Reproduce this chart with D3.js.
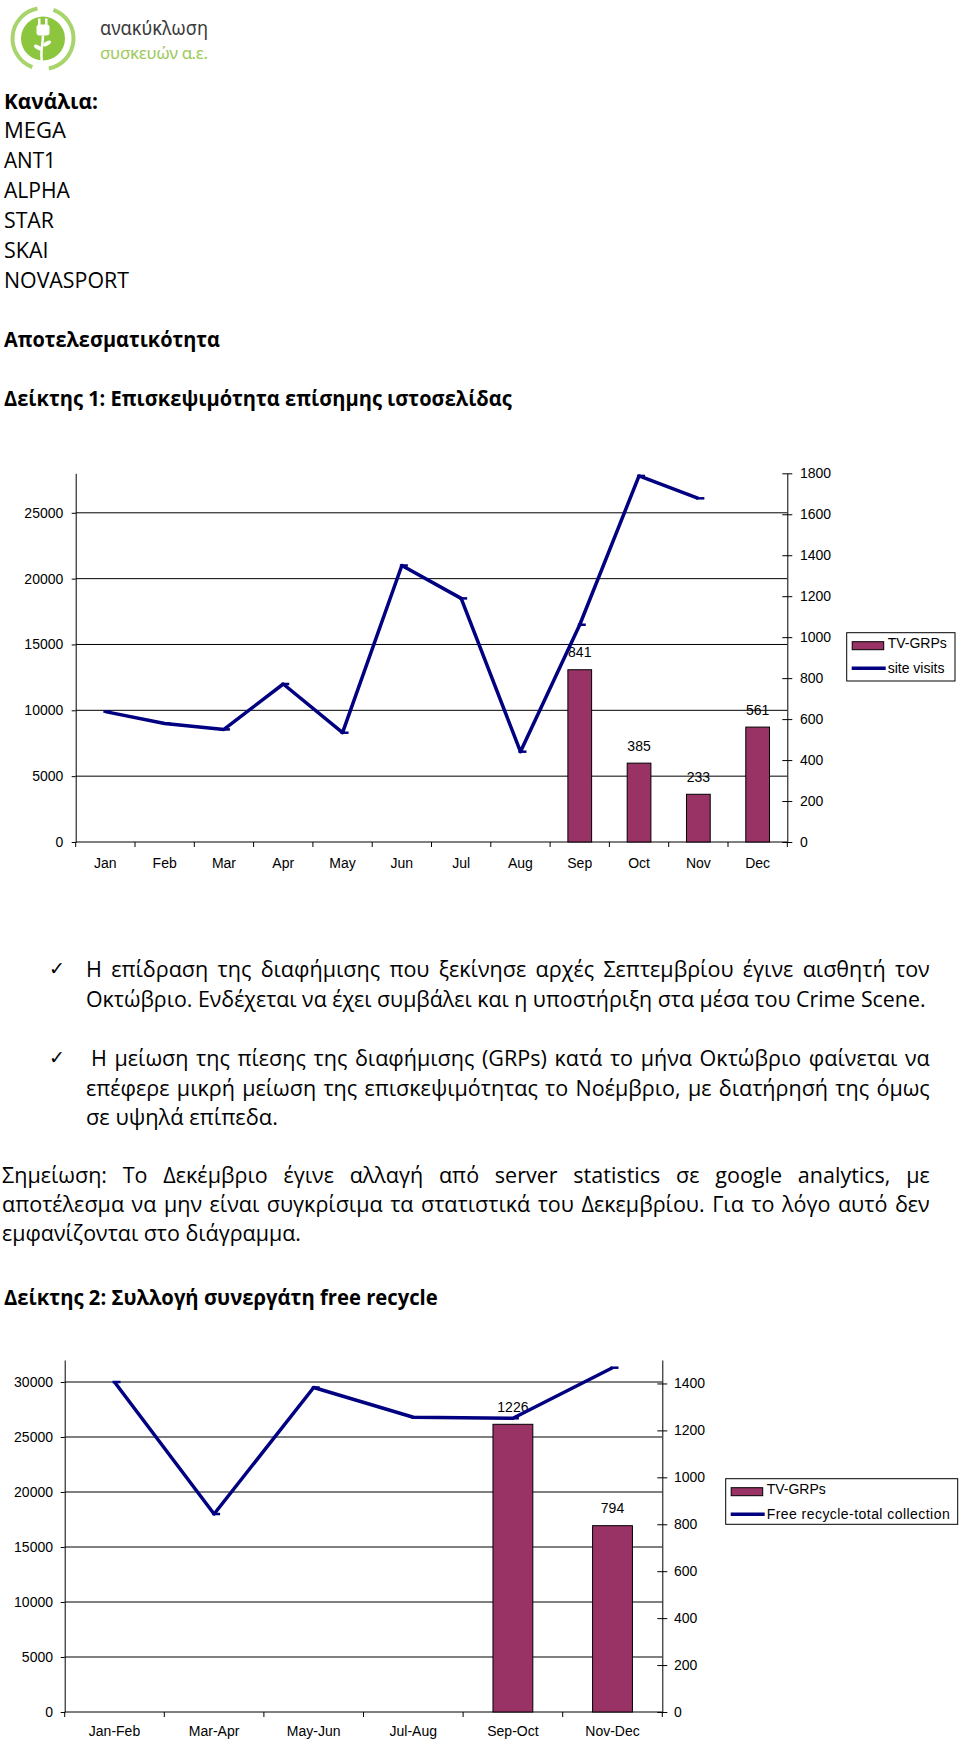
<!DOCTYPE html>
<html>
<head>
<meta charset="utf-8">
<script src="https://cdn.jsdelivr.net/npm/d3@7"></script>
<style>
  html, body { margin: 0; padding: 0; background: #fff; }
  svg { display: block; }
</style>
</head>
<body>
<div id="page"></div>
<script>
// ---- data ----
const channels = ["MEGA", "ANT1", "ALPHA", "STAR", "SKAI", "NOVASPORT"];

const months = ["Jan", "Feb", "Mar", "Apr", "May", "Jun", "Jul", "Aug", "Sep", "Oct", "Nov", "Dec"];
const siteVisits = [9900, 9000, 8550, 12000, 8300, 21000, 18500, 6860, 16500, 27800, 26100, null];
const tvGrps1 = [0, 0, 0, 0, 0, 0, 0, 0, 841, 385, 233, 561];
const leftTicks1 = [0, 5000, 10000, 15000, 20000, 25000];
const rightTicks1 = [0, 200, 400, 600, 800, 1000, 1200, 1400, 1600, 1800];

const periods = ["Jan-Feb", "Mar-Apr", "May-Jun", "Jul-Aug", "Sep-Oct", "Nov-Dec"];
const freeRecycle = [30000, 18000, 29500, 26800, 26700, 31300];
const tvGrps2 = [0, 0, 0, 0, 1226, 794];
const leftTicks2 = [0, 5000, 10000, 15000, 20000, 25000, 30000];
const rightTicks2 = [0, 200, 400, 600, 800, 1000, 1200, 1400];

const bullet1 = [
  "Η επίδραση της διαφήμισης που ξεκίνησε αρχές Σεπτεμβρίου έγινε αισθητή τον",
  "Οκτώβριο. Ενδέχεται να έχει συμβάλει και η υποστήριξη στα μέσα του Crime Scene."
];
const bullet2 = [
  "Η μείωση της πίεσης της διαφήμισης (GRPs) κατά το μήνα Οκτώβριο φαίνεται να",
  "επέφερε μικρή μείωση της επισκεψιμότητας το Νοέμβριο, με διατήρησή της όμως",
  "σε υψηλά επίπεδα."
];
const note = [
  "Σημείωση: Το Δεκέμβριο έγινε αλλαγή από server statistics σε google analytics, με",
  "αποτέλεσμα να μην είναι συγκρίσιμα τα στατιστικά του Δεκεμβρίου. Για το λόγο αυτό δεν",
  "εμφανίζονται στο διάγραμμα."
];

// ---- page ----
const W = 960, H = 1740;
const docFont = "'Open Sans', 'Noto Sans', sans-serif";
const chartFont = "'Liberation Sans', Arial, sans-serif";
const barColor = "#993366";
const lineColor = "#000080";

const svg = d3.select("#page").append("svg")
    .attr("width", W)
    .attr("height", H);

// logo
function drawLogo() {
    const g = svg.append("g");
    const cx = 43, cy = 38.5;
    const ring = d3.arc().innerRadius(28.5).outerRadius(32.5);
    g.append("path")
        .attr("transform", `translate(${cx},${cy})`)
        .attr("d", ring({ startAngle: 0.35, endAngle: 2.95 }))
        .attr("fill", "#a8d46c");
    g.append("path")
        .attr("transform", `translate(${cx},${cy})`)
        .attr("d", ring({ startAngle: 3.5, endAngle: 6.1 }))
        .attr("fill", "#a8d46c");
    g.append("circle").attr("cx", cx).attr("cy", cy).attr("r", 22).attr("fill", "#8cc63f");
    // plug / plant
    const w = g.append("g").attr("fill", "#fff").attr("transform", `translate(${cx},${cy})`);
    w.append("rect").attr("x", -5).attr("y", -20).attr("width", 2.5).attr("height", 7);
    w.append("rect").attr("x", 2).attr("y", -20).attr("width", 2.5).attr("height", 7);
    w.append("rect").attr("x", -6.5).attr("y", -14).attr("width", 13).attr("height", 11).attr("rx", 3);
    w.append("path")
        .attr("d", "M0,-3 C0,6 -3,12 -1,24")
        .attr("fill", "none").attr("stroke", "#fff").attr("stroke-width", 2.5);
    w.append("ellipse").attr("cx", -5).attr("cy", 9).attr("rx", 4.5).attr("ry", 2)
        .attr("transform", "rotate(30,-5,9)");
    w.append("ellipse").attr("cx", 4).attr("cy", 5).attr("rx", 4.5).attr("ry", 2)
        .attr("transform", "rotate(-30,4,5)");

    g.append("text")
        .attr("x", 100).attr("y", 35)
        .attr("font-family", "'Noto Sans', sans-serif")
        .attr("font-size", 19)
        .attr("fill", "#3a3a3a")
        .attr("textLength", 108)
        .attr("lengthAdjust", "spacingAndGlyphs")
        .text("ανακύκλωση");
    g.append("text")
        .attr("x", 100).attr("y", 59)
        .attr("font-family", "'Noto Sans', sans-serif")
        .attr("font-size", 17)
        .attr("fill", "#9cc95a")
        .attr("textLength", 108)
        .attr("lengthAdjust", "spacing")
        .text("συσκευών α.ε.");
}

// one line of document text, squeezed to the width it has in the scan
let squeeze = 1;
function docLine(str, x, y, x1, opts = {}) {
    const t = svg.append("text")
        .attr("font-family", docFont)
        .attr("font-size", 22)
        .attr("font-weight", opts.bold ? 700 : 400)
        .attr("fill", "#000")
        .text(str);
    const w = t.node().getComputedTextLength();
    let k;
    if (opts.justify) {
        k = squeeze;
        const n = (str.match(/ /g) || []).length;
        t.attr("word-spacing", ((x1 - x) / k - w) / n);
    } else {
        k = (x1 - x) / w;
    }
    t.attr("transform", `translate(${x},${y}) scale(${k},1)`);
    return k;
}

function drawText() {
    docLine("Κανάλια:", 4, 108.5, 98, { bold: true });
    const channelRight = [66, 56, 70, 54, 48.5, 129];
    channels.forEach((c, i) => docLine(c, 4, 137.5 + i * 30, channelRight[i]));
    docLine("Αποτελεσματικότητα", 4, 346.5, 220, { bold: true });
    docLine("Δείκτης 1: Επισκεψιμότητα επίσημης ιστοσελίδας", 4, 406, 512, { bold: true });

    // natural lines first, the justified ones reuse their squeeze
    const ks = [];
    ks.push(docLine(note[2], 2, 1241, 301));
    ks.push(docLine(bullet2[2], 86, 1125, 278));
    ks.push(docLine(bullet1[1], 86, 1006.5, 926));
    squeeze = d3.mean(ks);

    docLine(bullet1[0], 86, 977, 930, { justify: true });
    docLine(bullet2[0], 91, 1066, 930, { justify: true });
    docLine(bullet2[1], 86, 1095.5, 930, { justify: true });
    docLine(note[0], 2, 1183, 930, { justify: true });
    docLine(note[1], 2, 1212, 930, { justify: true });

    [975, 1064].forEach(y => {
        svg.append("text")
            .attr("x", 49).attr("y", y)
            .attr("font-family", "'DejaVu Sans', sans-serif")
            .attr("font-size", 19)
            .text("\u2713");
    });

    docLine("Δείκτης 2: Συλλογή συνεργάτη free recycle", 4, 1305, 438, { bold: true });
}

// combo chart: bars on the right axis, line on the left axis
function drawChart(cfg) {
    const g = svg.append("g")
        .attr("font-family", chartFont)
        .attr("font-size", 14);

    const x = d3.scaleBand().domain(cfg.cats).range([cfg.left, cfg.right]);
    const yL = d3.scaleLinear().domain([0, cfg.leftMax]).range([cfg.bottom, cfg.top]);
    const yR = d3.scaleLinear().domain([0, cfg.rightMax]).range([cfg.bottom, cfg.top]);
    const bw = x.bandwidth();

    // gridlines
    g.append("g").selectAll("line")
        .data(cfg.leftTicks.filter(v => v > 0))
        .join("line")
        .attr("x1", cfg.left).attr("x2", cfg.right)
        .attr("y1", d => yL(d)).attr("y2", d => yL(d))
        .attr("stroke", "#000").attr("stroke-width", 1);

    // left axis
    const axL = g.append("g")
        .attr("transform", `translate(${cfg.left},0)`)
        .call(d3.axisLeft(yL).tickValues(cfg.leftTicks).tickSize(4).tickSizeOuter(0)
            .tickPadding(cfg.leftPad).tickFormat(d3.format("d")));
    axL.attr("font-family", null).attr("font-size", null);
    axL.selectAll("path, line").attr("stroke", "#000");
    axL.selectAll("text").attr("fill", "#000");

    // right axis, ticks cross the line
    const axR = g.append("g")
        .attr("transform", `translate(${cfg.right},0)`)
        .call(d3.axisRight(yR).tickValues(cfg.rightTicks).tickSize(5).tickSizeOuter(0)
            .tickPadding(cfg.rightPad).tickFormat(d3.format("d")));
    axR.attr("font-family", null).attr("font-size", null);
    axR.selectAll("path, line").attr("stroke", "#000");
    axR.selectAll(".tick line").attr("x1", -5);
    axR.selectAll("text").attr("fill", "#000");

    // category axis: ticks on band edges, labels in the middle
    g.append("line")
        .attr("x1", cfg.left).attr("x2", cfg.right)
        .attr("y1", cfg.bottom).attr("y2", cfg.bottom)
        .attr("stroke", "#000");
    const edges = cfg.cats.map(c => x(c)).concat([x.range()[1]]);
    g.append("g").selectAll("line")
        .data(edges)
        .join("line")
        .attr("x1", d => d).attr("x2", d => d)
        .attr("y1", cfg.bottom).attr("y2", cfg.bottom + 5)
        .attr("stroke", "#000");
    g.append("g").selectAll("text")
        .data(cfg.cats)
        .join("text")
        .attr("x", d => x(d) + bw / 2)
        .attr("y", cfg.labelY)
        .attr("text-anchor", "middle")
        .text(d => d);

    // bars
    const barData = cfg.cats.map((c, i) => ({ c, v: cfg.bars[i] })).filter(d => d.v > 0);
    g.append("g").selectAll("rect")
        .data(barData)
        .join("rect")
        .attr("x", d => x(d.c) + bw * 0.3)
        .attr("width", bw * 0.4)
        .attr("y", d => yR(d.v))
        .attr("height", d => yR(0) - yR(d.v))
        .attr("fill", barColor)
        .attr("stroke", "#000")
        .attr("stroke-width", 1);

    g.append("g").selectAll("text")
        .data(barData)
        .join("text")
        .attr("x", d => x(d.c) + bw / 2)
        .attr("y", d => yR(d.v) - 12.5)
        .attr("text-anchor", "middle")
        .text(d => d.v);

    // line
    const lineData = cfg.cats.map((c, i) => ({ c, v: cfg.line[i] }));
    const line = d3.line()
        .defined(d => d.v != null)
        .x(d => x(d.c) + bw / 2)
        .y(d => yL(d.v));
    g.append("path")
        .datum(lineData)
        .attr("d", line)
        .attr("fill", "none")
        .attr("stroke", lineColor)
        .attr("stroke-width", 3.5)
        .attr("stroke-linejoin", "round");
    g.append("g").selectAll("line")
        .data(lineData.filter(d => d.v != null))
        .join("line")
        .attr("x1", d => x(d.c) + bw / 2 - 2)
        .attr("x2", d => x(d.c) + bw / 2 + 6)
        .attr("y1", d => yL(d.v)).attr("y2", d => yL(d.v))
        .attr("stroke", lineColor)
        .attr("stroke-width", 2.5);

    // legend
    const L = cfg.legend;
    const lg = g.append("g").attr("font-size", 14);
    lg.append("rect")
        .attr("x", L.x).attr("y", L.y).attr("width", L.w).attr("height", L.h)
        .attr("fill", "#fff").attr("stroke", "#000");
    lg.append("rect")
        .attr("x", L.x + 5.5).attr("y", L.y + 9).attr("width", 31.5).attr("height", 8)
        .attr("fill", barColor).attr("stroke", "#000");
    lg.append("text").attr("x", L.x + 41).attr("y", L.y + 15.5).text("TV-GRPs");
    lg.append("line")
        .attr("x1", L.x + 5).attr("x2", L.x + 39)
        .attr("y1", L.y + 35.5).attr("y2", L.y + 35.5)
        .attr("stroke", lineColor).attr("stroke-width", 3.5);
    lg.append("text").attr("x", L.x + 41).attr("y", L.y + 40.5)
        .attr("letter-spacing", L.spacing || 0)
        .text(cfg.lineName);
}

drawLogo();
drawText();

drawChart({
    cats: months, line: siteVisits, bars: tvGrps1, lineName: "site visits",
    left: 75.7, right: 787.3, top: 473.3, bottom: 842,
    leftMax: 28000, rightMax: 1800,
    leftTicks: leftTicks1, rightTicks: rightTicks1,
    leftPad: 8.4, rightPad: 7.7, labelY: 867.5,
    legend: { x: 846.7, y: 632.7, w: 108.3, h: 48.3 }
});

drawChart({
    cats: periods, line: freeRecycle, bars: tvGrps2, lineName: "Free recycle-total collection",
    left: 64.7, right: 662.3, top: 1360, bottom: 1712,
    leftMax: 32000, rightMax: 1500,
    leftTicks: leftTicks2, rightTicks: rightTicks2,
    leftPad: 7.7, rightPad: 6.7, labelY: 1736,
    legend: { x: 725.7, y: 1478.7, w: 232, h: 45.6, spacing: 0.45 }
});
</script>
</body>
</html>
